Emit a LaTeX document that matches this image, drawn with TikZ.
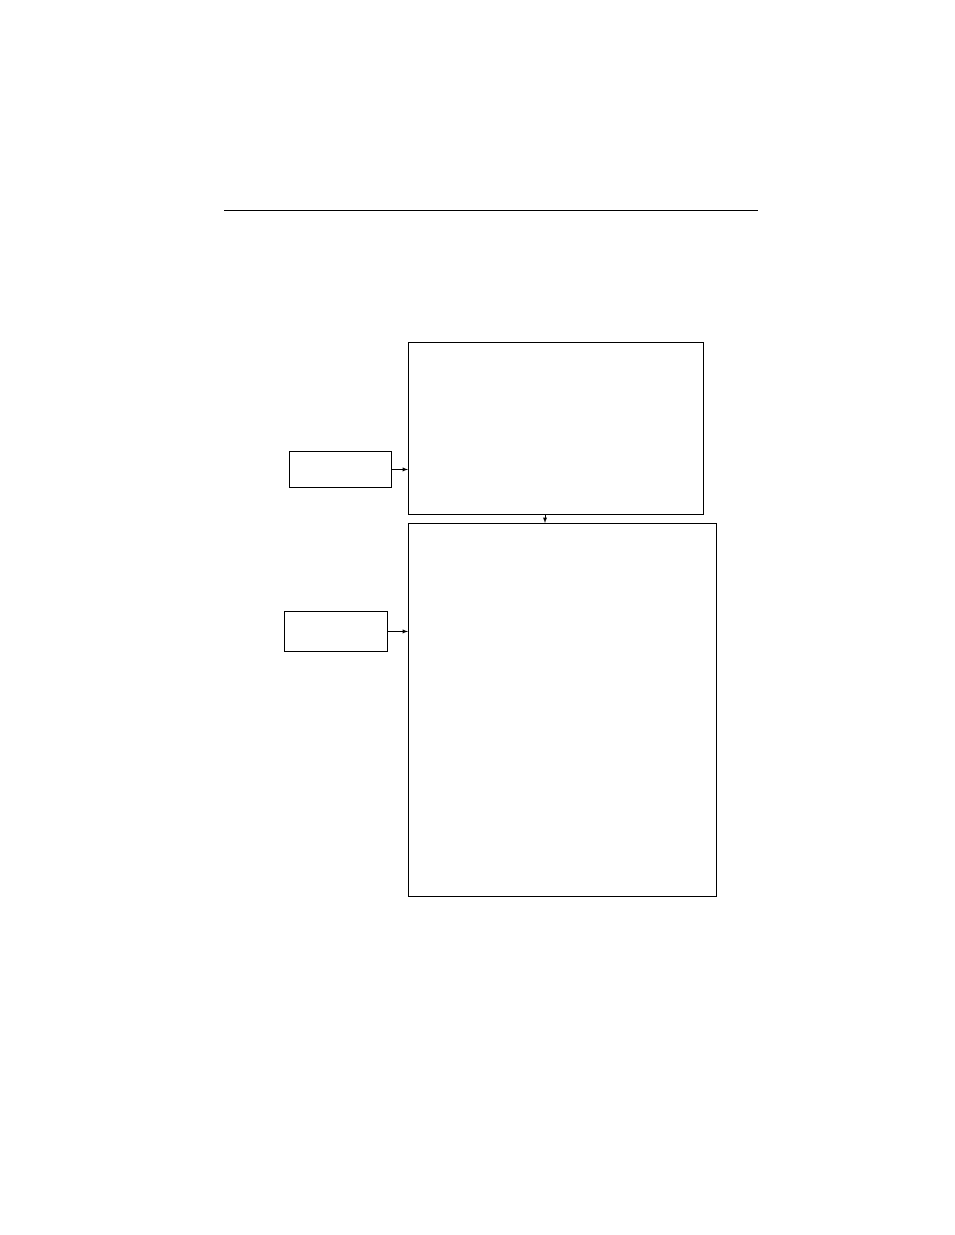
\documentclass[tikz,border=0pt]{standalone}
\usepackage{tikz}
\usetikzlibrary{arrows}

\begin{document}
\begin{tikzpicture}[x=1pt, y=-1pt, line width=0.9pt,
  block/.style={draw, rectangle, anchor=north west, inner sep=0pt},
  tip/.style={-latex, shorten >=0pt}]
  \useasboundingbox (0,0) rectangle (954,1235);
  \coordinate (rl) at (224,210);
  \coordinate (rr) at (758,210);
  \draw (rl) -- (rr);
  \node[block, minimum width=295pt, minimum height=172pt] (top) at (408,342) {};
  \node[block, minimum width=308pt, minimum height=373pt] (bot) at (408,523) {};
  \node[block, minimum width=102pt, minimum height=36pt] (in1) at (289,451) {};
  \node[block, minimum width=103pt, minimum height=40pt] (in2) at (284,611) {};
  \coordinate (c) at (545,514);
  \path[tip]
  (in1.east) edge (in1.east -| top.west)
  (in2.east) edge (in2.east -| bot.west)
  (c) edge (c |- bot.north)
  ;
\end{tikzpicture}
\end{document}
